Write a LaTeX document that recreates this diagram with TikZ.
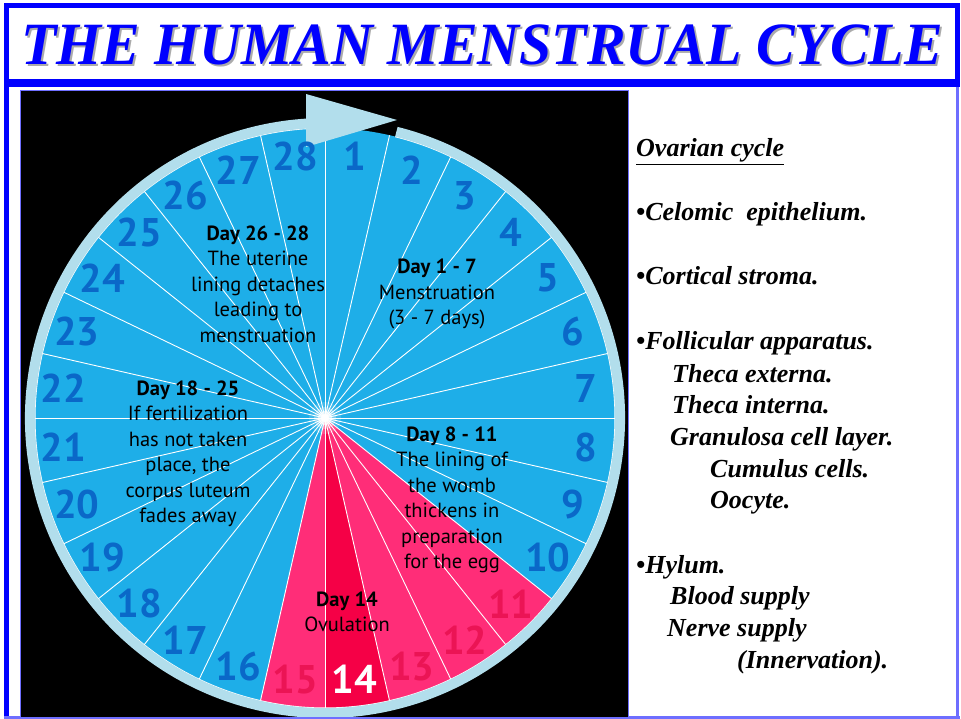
\documentclass[tikz,border=0pt]{standalone}
\usepackage{fontspec}
\setmainfont{Liberation Serif}
\newfontfamily\wheelfont{PT Sans}
\usepackage{tikz}
\definecolor{titleblue}{RGB}{0,0,255}
\definecolor{framelight}{RGB}{110,110,255}
\definecolor{wheelblue}{RGB}{30,174,232}
\definecolor{ringblue}{RGB}{178,222,236}
\definecolor{numblue}{RGB}{10,104,200}
\definecolor{cyclepink}{RGB}{255,45,120}
\definecolor{ovured}{RGB}{245,0,70}
\definecolor{pinknum}{RGB}{235,20,85}
\tikzset{
  titletext/.style={font=\fontsize{60}{60}\selectfont\bfseries\itshape,
                    text=titleblue, inner sep=0pt, anchor=base, xscale=0.965},
  daynum/.style={font=\wheelfont\fontsize{40}{40}\selectfont\bfseries,
                 text=#1, inner sep=0pt},
  daytext/.style={font=\wheelfont\fontsize{20.5}{25.5}\selectfont,
                  align=center, inner sep=0pt},
  ovtext/.style={font=\fontsize{26}{26}\selectfont\bfseries\itshape,
                 anchor=base west, inner sep=0pt},
  spoke/.style={white, line width=0.9pt},
}

\begin{document}
\begin{tikzpicture}[x=1pt, y=1pt]
  \useasboundingbox (0,0) rectangle (961,-719);
  % frame
  \fill[white] (0,0) rectangle (961,-719);
  \fill[titleblue] (4,-3) rectangle (960,-8);
  \fill[titleblue] (4,-3) rectangle (9,-716);
  \fill[titleblue] (955,-3) rectangle (960,-87);
  \fill[framelight] (956,-87) rectangle (959,-716);
  \fill[titleblue] (4,-79) rectangle (960,-87);
  \fill[framelight] (4,-716) rectangle (960,-719);
  % title
  \node[titletext, text=black!33] (titleshadow) at (484,-67) {THE HUMAN MENSTRUAL CYCLE};
  \node[titletext] (title) at (482,-65) {THE HUMAN MENSTRUAL CYCLE};
  % wheel
  \coordinate (c) at (325,-418);
  \begin{scope}
    \clip (20,-90) rectangle (628,-717);
    \fill[black] (20,-90) rectangle (628,-717);
    \fill[wheelblue] (c) circle (290);
    \foreach \d/\col in {11/cyclepink, 12/cyclepink, 13/cyclepink, 14/ovured, 15/cyclepink}{
      \fill[\col] (c) -- ++({90-(\d-1)*360/28}:290)
        arc[start angle={90-(\d-1)*360/28}, end angle={90-\d*360/28}, radius=290] -- cycle;
    }
    \foreach \i in {0,...,27}
      \draw[spoke] (c) -- ++({90-\i*360/28}:290);
    % ring and arrow
    \draw[white, line width=1.2pt] (c) ++(76:290) arc[start angle=76, end angle=-266.5, radius=290];
    \draw[ringblue, line width=10pt] (c) ++(76:295) arc[start angle=76, end angle=-266.5, radius=295];
    \fill[ringblue] (306,-94) -- (397,-120) -- (306,-147) -- cycle;
    % glow
    \foreach \r/\o in {16/0.15, 11/0.3, 7/0.6, 4/1}
      \fill[white, opacity=\o] (c) circle (\r);
  \end{scope}
  \draw[framelight, line width=0.8pt] (20,-90) rectangle (628,-717);
  % day numbers
  \foreach \d in {1,...,10,16,17,...,28}
    \node[daynum=numblue] (n\d) at ([shift={({90-(\d-0.5)*360/28}:263)}]c) {\d};
  \foreach \d in {11,12,13,15}
    \node[daynum=pinknum] (n\d) at ([shift={({90-(\d-0.5)*360/28}:263)}]c) {\d};
  \node[daynum=white] (n14) at ([shift={({90-13.5*360/28}:263)}]c) {14};
  % phase labels
  \node[daytext] (phase1) at (437,-294) {\textbf{Day 1 - 7}\\Menstruation\\(3 - 7 days)};
  \node[daytext] (phase2) at (452,-500) {\textbf{Day 8 - 11}\\The lining of\\the womb\\thickens in\\preparation\\for the egg};
  \node[daytext] (phase3) at (347,-612) {\textbf{Day 14}\\Ovulation};
  \node[daytext] (phase4) at (188,-454) {\textbf{Day 18 - 25}\\If fertilization\\has not taken\\place, the\\corpus luteum\\fades away};
  \node[daytext] (phase5) at (258,-284) {\textbf{Day 26 - 28}\\The uterine\\lining detaches\\leading to\\menstruation};
  % ovarian cycle list
  \foreach \x/\y/\txt [count=\k] in {
      636/157/\underline{Ovarian cycle},
      636/221/\textbullet Celomic\ \ epithelium.,
      636/285/\textbullet Cortical stroma.,
      636/349/\textbullet Follicular apparatus.,
      672/382/Theca externa.,
      672/413/Theca interna.,
      670/445/Granulosa cell layer.,
      710/477/Cumulus cells.,
      710/508/Oocyte.,
      636/573/\textbullet Hylum.,
      670/604/Blood supply,
      667/636/Nerve supply,
      737/668/(Innervation).}
    \node[ovtext] (ov\k) at (\x,-\y) {\txt};
\end{tikzpicture}
\end{document}
